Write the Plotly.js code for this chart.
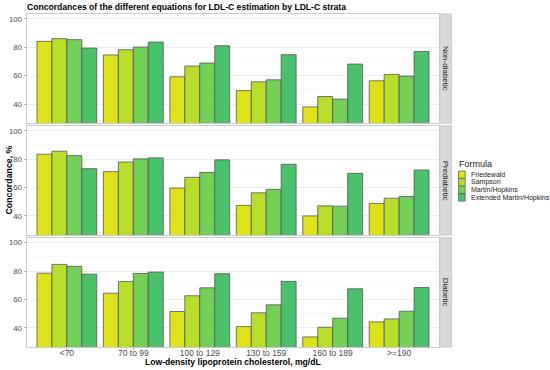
<!DOCTYPE html>
<html>
<head>
<meta charset="utf-8">
<script src="https://cdn.plot.ly/plotly-3.0.1.min.js"></script>
<style>html,body{margin:0;padding:0;background:#fff;}#chart{width:550px;height:370px;}</style>
</head>
<body>
<div id="chart"></div>
<script>
// ---- data ----
var strata = ["<70", "70 to 99", "100 to 129", "130 to 159", "160 to 189", ">=190"];
var formulas = ["Friedewald", "Sampson", "Martin/Hopkins", "Extended Martin/Hopkins"];
var panels = ["Non-diabetic", "Prediabetic", "Diabetic"];

// Non-diabetic
var nonDiabFriedewald = [84.2, 74.6, 59.2, 49.5, 38.0, 56.4];
var nonDiabSampson    = [86.1, 78.3, 66.8, 55.7, 45.3, 60.9];
var nonDiabMartin     = [85.4, 80.2, 68.9, 57.1, 43.5, 59.7];
var nonDiabExtended   = [79.5, 83.7, 81.1, 74.8, 68.2, 77.1];
// Prediabetic
var preDiabFriedewald = [83.5, 71.2, 59.6, 47.4, 40.0, 48.8];
var preDiabSampson    = [85.6, 78.0, 67.2, 56.3, 47.1, 52.5];
var preDiabMartin     = [82.5, 80.2, 70.7, 58.7, 46.9, 53.7];
var preDiabExtended   = [73.3, 80.9, 79.5, 76.4, 70.0, 72.4];
// Diabetic
var diabFriedewald = [78.5, 64.4, 51.5, 40.9, 33.6, 44.2];
var diabSampson    = [84.7, 72.7, 62.6, 50.6, 40.4, 46.3];
var diabMartin     = [83.3, 78.3, 68.2, 56.2, 46.8, 51.7];
var diabExtended   = [77.8, 79.3, 78.1, 72.7, 67.5, 68.4];

var yTickVals = [40, 60, 80, 100];

// ---- styling ----
var colors = ["#dde318", "#b8dd2b", "#73d056", "#4bc16c"];
var FONT = "Liberation Sans, Arial, Helvetica, sans-serif";
var W = 550, H = 370;
var L = 27, R = 439, T = 14.3, B = 346.7;
function px(x) { return (x - L) / (R - L); }
function py(y) { return (B - y) / (B - T); }

var panelData = [
  [nonDiabFriedewald, nonDiabSampson, nonDiabMartin, nonDiabExtended],
  [preDiabFriedewald, preDiabSampson, preDiabMartin, preDiabExtended],
  [diabFriedewald, diabSampson, diabMartin, diabExtended]
];
var panelPx = [[14.3, 123.3], [125.9, 235.0], [237.6, 346.7]];

var traces = [];
panelData.forEach(function (series, p) {
  var sfx = p === 0 ? "" : String(p + 1);
  series.forEach(function (vals, f) {
    traces.push({
      type: "bar",
      x: strata,
      y: vals,
      name: formulas[f],
      xaxis: "x" + sfx,
      yaxis: "y" + sfx,
      showlegend: false,
      marker: { color: colors[f], line: { color: "#555555", width: 0.8 } },
      hoverinfo: "x+y+name"
    });
  });
});

var layout = {
  width: W, height: H,
  margin: { l: L, r: W - R, t: T, b: H - B, pad: 0 },
  paper_bgcolor: "#ffffff",
  plot_bgcolor: "#ffffff",
  barmode: "group",
  bargap: 0.1,
  bargroupgap: 0,
  font: { family: FONT, size: 8, color: "#4d4d4d" },
  title: {
    text: "<b>Concordances of the different equations for LDL-C estimation by LDL-C strata</b>",
    font: { family: FONT, size: 8.6, color: "#000000" },
    x: px(27), xref: "paper", xanchor: "left",
    y: 1 - 7 / H, yref: "container", yanchor: "middle"
  },
  shapes: [],
  annotations: []
};

panelPx.forEach(function (pp, p) {
  var sfx = p === 0 ? "" : String(p + 1);
  var dom = [py(pp[1]), py(pp[0])];
  var bottom = p === 2;
  layout["xaxis" + sfx] = {
    domain: [0, 1],
    anchor: "y" + sfx,
    type: "category",
    range: [-0.6, 5.6],
    showgrid: false,
    zeroline: false,
    showline: true, mirror: true, linecolor: "#cccccc", linewidth: 1,
    ticks: bottom ? "outside" : "",
    ticklen: 2, tickcolor: "#b3b3b3",
    ticklabelstandoff: -4,
    showticklabels: bottom,
    tickfont: { family: FONT, size: 8.5, color: "#4d4d4d" }
  };
  if (p > 0) layout["xaxis" + sfx].matches = "x";
  layout["yaxis" + sfx] = {
    domain: dom,
    anchor: "x" + sfx,
    range: [26.5, 103.5],
    tickvals: yTickVals,
    ticks: "outside", ticklen: 2.5, tickcolor: "#b3b3b3",
    tickfont: { family: FONT, size: 7.8, color: "#4d4d4d" },
    showgrid: true, gridcolor: "#ebebeb", gridwidth: 0.8,
    minor: { dtick: 10, tick0: 30, showgrid: true, gridcolor: "#f4f4f4", gridwidth: 0.6, ticks: "" },
    zeroline: false,
    showline: true, mirror: true, linecolor: "#cccccc", linewidth: 1
  };
  // facet strip
  layout.shapes.push({
    type: "rect", xref: "paper", yref: "paper",
    x0: px(439.8), x1: px(451.6), y0: dom[0], y1: dom[1],
    fillcolor: "#d9d9d9", line: { color: "#c2c2c2", width: 0.8 }, layer: "above"
  });
  layout.annotations.push({
    xref: "paper", yref: "paper",
    x: px(445.7), y: (dom[0] + dom[1]) / 2,
    text: panels[p], textangle: 90, showarrow: false,
    font: { family: FONT, size: 8, color: "#1a1a1a" },
    xanchor: "center", yanchor: "middle"
  });
});

// axis titles
layout.annotations.push({
  xref: "paper", yref: "paper", x: px(8.5), y: py(180),
  text: "<b>Concordance, %</b>", textangle: -90, showarrow: false,
  font: { family: FONT, size: 8.8, color: "#000000" },
  xanchor: "center", yanchor: "middle"
});
layout.annotations.push({
  xref: "paper", yref: "paper", x: px(233), y: py(362),
  text: "<b>Low-density lipoprotein cholesterol, mg/dL</b>", showarrow: false,
  font: { family: FONT, size: 8.6, color: "#000000" },
  xanchor: "center", yanchor: "middle"
});

// manual legend
layout.annotations.push({
  xref: "paper", yref: "paper", x: px(457.5), y: py(164),
  text: "Formula", showarrow: false,
  font: { family: FONT, size: 9, color: "#1a1a1a" },
  xanchor: "left", yanchor: "middle"
});
formulas.forEach(function (name, i) {
  var cy = 174.7 + i * 7.6;
  layout.shapes.push({
    type: "rect", xref: "paper", yref: "paper",
    x0: px(458.5), x1: px(465.2), y0: py(cy + 3.6), y1: py(cy - 3.6),
    fillcolor: colors[i], line: { color: "#555555", width: 0.7 }
  });
  layout.annotations.push({
    xref: "paper", yref: "paper", x: px(469.5), y: py(cy),
    text: name, showarrow: false,
    font: { family: FONT, size: 7, color: "#1a1a1a" },
    xanchor: "left", yanchor: "middle"
  });
});

Plotly.newPlot("chart", traces, layout, { displayModeBar: false, staticPlot: true });
</script>
</body>
</html>
